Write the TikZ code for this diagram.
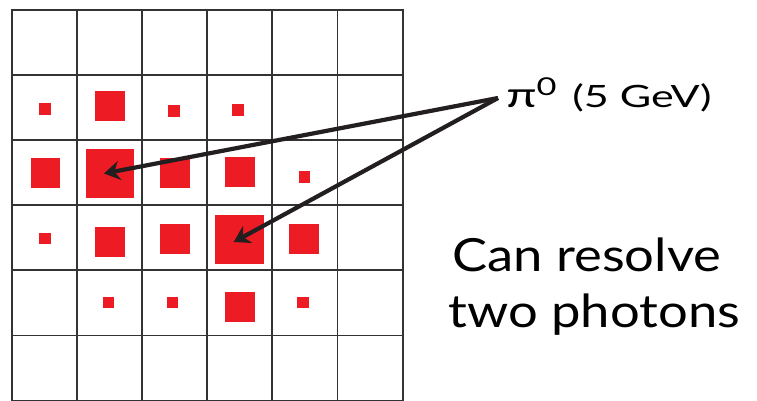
\documentclass[tikz,border=0pt]{standalone}
\usepackage{fontspec}
\setmainfont{Lato}
\newfontfamily\labelfont[FakeStretch=1.4]{Lato}
\newfontfamily\bigfont[FakeStretch=1.15]{Lato}
\usetikzlibrary{arrows.meta, positioning, calc}

\definecolor{hitred}{HTML}{ED1C24}
\definecolor{gridgray}{HTML}{333333}
\definecolor{inkblack}{HTML}{231F20}

\begin{document}
\begin{tikzpicture}[
    x=0.02cm, y=-0.02cm,
    cell/.style={draw=gridgray, line width=1.1pt, line cap=rect},
    hit_s/.style={fill=hitred, inner sep=0, minimum size=0.23cm},
    hit_m/.style={fill=hitred, inner sep=0, minimum size=0.6cm},
    hit_l/.style={fill=hitred, inner sep=0, minimum size=0.98cm},
    arrow/.style={-{Stealth[length=9pt, width=11pt, inset=3pt]}, line width=2.4pt, inkblack},
    bigtext/.style={anchor=base west, inner sep=0, font=\bigfont\fontsize{26}{32}\selectfont},
]
\useasboundingbox (0,0) rectangle (757,400);

% calorimeter cells
\foreach \i in {0,...,6} {
  \draw[cell] (12+65.1*\i,10) -- (12+65.1*\i,401);
  \draw[cell] (12,10+65.1*\i) -- (402.6,10+65.1*\i);
}

% energy deposits, row 1
\node[hit_s] (h10) at (45,109) {};
\node[hit_m] (h11) at (110,106) {};
\node[hit_s] (h12) at (174,111) {};
\node[hit_s] (h13) at (238,110) {};
% row 2
\node[hit_m] (h20) at (45.5,173.3) {};
\node[hit_l] (h21) at (110,173.5) {};
\node[hit_m] (h22) at (174.7,173.3) {};
\node[hit_m] (h23) at (240,171.7) {};
\node[hit_s] (h24) at (304.3,177) {};
% row 3
\node[hit_s] (h30) at (45,238.7) {};
\node[hit_m] (h31) at (110,241.7) {};
\node[hit_m] (h32) at (175.3,239) {};
\node[hit_l] (h33) at (239.7,239) {};
\node[hit_m] (h34) at (304.3,239) {};
% row 4
\node[hit_s] (h41) at (108.5,302.5) {};
\node[hit_s] (h42) at (172.5,302.5) {};
\node[hit_m] (h43) at (240,307) {};
\node[hit_s] (h44) at (303,302.5) {};

% labels
\coordinate (src) at (498,98);
\node[anchor=base west, inner sep=0, font=\labelfont\fontsize{17.5}{20}\selectfont] (pi) at (506,107.5)
  {{\fontsize{20}{20}\selectfont π}\raisebox{7pt}{\fontsize{14}{14}\selectfont 0}\hspace{9pt}(5 GeV)};
\node[bigtext] (txt1) at (452,271) {Can resolve};
\node[bigtext] (txt2) at (448,327) {two photons};

% photon arrows
\draw[arrow] (src) -- ($(h21.center)+(-6,0)$);
\draw[arrow] (src) -- ($(h33.center)+(-6,3)$);

\end{tikzpicture}
\end{document}
